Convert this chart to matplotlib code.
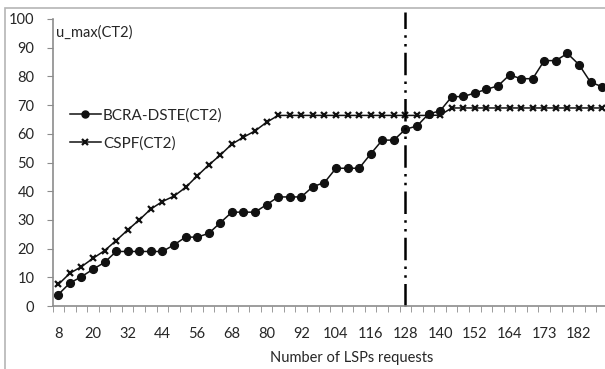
import matplotlib.pyplot as plt
import numpy as np
from matplotlib.patches import Rectangle

# categories (number of LSP requests)
requests = [8, 12, 16, 20, 24, 28, 32, 36, 40, 44, 48, 52, 56, 60, 64, 68, 72, 76,
            80, 84, 88, 92, 96, 100, 104, 108, 112, 116, 120, 124, 128, 132, 136, 140,
            144, 148, 152, 156, 160, 164, 167, 170, 173, 176, 179, 182, 185, 188]

bcra = [4, 8, 10.2, 12.8, 15.2, 19, 19, 19, 19, 19, 21.3, 24, 24, 25.3, 29, 32.7,
        32.7, 32.7, 35.3, 38, 38, 38, 41.6, 43, 48, 48, 48, 53, 57.8, 57.8, 61.6, 62.7,
        66.9, 68, 72.9, 73, 74.2, 75.5, 76.7, 80.5, 79.2, 79.2, 85.5, 85.5, 88, 84.1,
        78, 76.4]

cspf = [7.5, 11.4, 13.7, 16.6, 19.3, 22.8, 26.5, 30, 33.8, 36.4, 38.3, 41.3, 45.3,
        49.1, 52.6, 56.4, 58.8, 61, 64, 66.4, 66.4, 66.4, 66.4, 66.4, 66.4, 66.4, 66.4,
        66.4, 66.4, 66.4, 66.4, 66.4, 66.4, 66.5, 69, 69, 69, 69, 69, 69, 69, 69, 69,
        69, 69, 69, 69, 69]

labels = ['BCRA-DSTE(CT2)', 'CSPF(CT2)']
marker_line = 128

plt.rcParams['font.family'] = ['Lato', 'DejaVu Sans']

W, H = 605, 369
fig = plt.figure(figsize=(W / 100, H / 100), dpi=100)

# outer chart frame (cut off at right and bottom)
fig.patches.append(Rectangle((5 / W, -0.1), 1.2, (H - 8) / H + 0.1,
                             transform=fig.transFigure, fill=False,
                             edgecolor='#b5b5b5', lw=1.2))

ax = fig.add_axes([52.5 / W, (H - 306) / H, (W - 52.5) / W, 287 / H])
idx = np.arange(len(requests))

ax.plot(idx, bcra, color='#111111', lw=1.1, marker='o', markersize=5.6,
        label=labels[0])
ax.plot(idx, cspf, color='#111111', lw=1.1, marker='x', markersize=4.2,
        markeredgewidth=1.6, label=labels[1])

pos = requests.index(marker_line)
ax.plot([pos, pos], [0, 102.5], color='black', lw=1.8,
        dashes=(9, 2.5, 1, 2.5, 1, 2.5), clip_on=False)

ax.set_xlim(-0.5, 47.25)
ax.set_ylim(0, 100)
ax.set_yticks(np.arange(0, 101, 10))
ax.set_xticks(idx[::3])
ax.set_xticklabels([str(r) for r in requests[::3]])
ax.set_xticks(idx - 0.5, minor=True)

for s in ['top', 'right']:
    ax.spines[s].set_visible(False)
for s in ['left', 'bottom']:
    ax.spines[s].set_color('#8c8c8c')
    ax.spines[s].set_linewidth(1.2)

ax.tick_params(axis='y', length=4, color='#8c8c8c', pad=9, labelsize=10.5,
               labelcolor='#262626')
ax.tick_params(axis='x', which='major', length=0, pad=15, labelsize=10.5,
               labelcolor='#262626')
ax.tick_params(axis='x', which='minor', length=4, color='#8c8c8c')

fig.text(352 / W, 1 - 358 / H, 'Number of LSPs requests', ha='center',
         va='center', fontsize=10.5, color='#262626')
fig.text(56 / W, 1 - 33 / H, 'u_max(CT2)', ha='left', va='center',
         fontsize=10.5, color='#262626')

ax.legend(loc='upper left', bbox_to_anchor=(70 / W, 1 - 108 / H),
          bbox_transform=fig.transFigure, frameon=False, fontsize=11,
          handlelength=2.0, handletextpad=0.15, labelspacing=0.9,
          borderaxespad=0, borderpad=0, labelcolor='#262626',
          markerscale=0.9)

fig.savefig('out.png', dpi=100)
